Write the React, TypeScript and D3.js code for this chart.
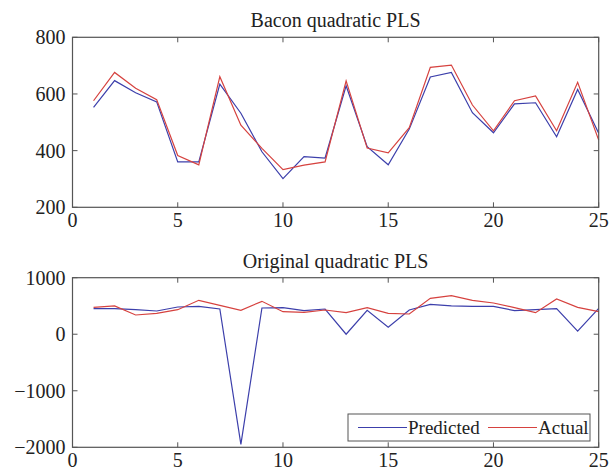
import React, { useEffect, useRef } from "react";
import * as d3 from "d3";

// sample index 1..25
const samples = d3.range(1, 26);

// Bacon quadratic PLS
const baconPredicted = [553, 647, 604, 572, 360, 360, 635, 532, 396, 301, 379, 374, 629, 414, 350, 476, 660, 676, 534, 463, 565, 569, 449, 616, 461];
const baconActual = [576, 676, 620, 580, 383, 350, 661, 490, 408, 333, 349, 360, 646, 409, 392, 481, 694, 702, 561, 470, 576, 593, 470, 641, 437];

// Original quadratic PLS
const origPredicted = [452, 452, 434, 411, 482, 494, 446, -1948, 464, 470, 417, 446, 0, 423, 123, 429, 529, 500, 494, 494, 417, 434, 452, 53, 458];
const origActual = [476, 500, 340, 370, 434, 600, 511, 423, 582, 399, 388, 429, 381, 470, 370, 358, 635, 682, 600, 553, 470, 381, 623, 476, 399];

const xTicks = [0, 5, 10, 15, 20, 25];
const topYTicks = [200, 400, 600, 800];
const bottomYTicks = [-2000, -1000, 0, 1000];

const legendLabels = ["Predicted", "Actual"];

const BLUE = "#3c3fab";
const RED = "#d6423f";
const AXIS = "#555";
const FONT = "'Liberation Serif', 'DejaVu Serif', serif";

const App = () => {
  const svgRef = useRef<SVGSVGElement>(null);

  useEffect(() => {
    const svg = d3.select(svgRef.current);
    svg.selectAll("*").remove();

    const left = 72.5;
    const right = 598.7;

    const x = d3.scaleLinear().domain([0, 25]).range([left, right]);

    const panel = (
      top: number,
      bottom: number,
      yDomain: [number, number],
      yTicks: number[],
      title: string,
      pred: number[],
      act: number[]
    ) => {
      const y = d3.scaleLinear().domain(yDomain).range([bottom, top]);
      const g = svg.append("g");

      const tl = 5;
      // ticks inside on all four sides
      xTicks.forEach(t => {
        g.append("line").attr("x1", x(t)).attr("x2", x(t)).attr("y1", bottom).attr("y2", bottom - tl).attr("stroke", AXIS);
        g.append("line").attr("x1", x(t)).attr("x2", x(t)).attr("y1", top).attr("y2", top + tl).attr("stroke", AXIS);
        g.append("text")
          .attr("x", x(t))
          .attr("y", bottom + 20)
          .attr("text-anchor", "middle")
          .attr("font-family", FONT)
          .attr("font-size", 20)
          .attr("fill", "#222")
          .text(d3.format("d")(t));
      });
      yTicks.forEach(t => {
        g.append("line").attr("x1", left).attr("x2", left + tl).attr("y1", y(t)).attr("y2", y(t)).attr("stroke", AXIS);
        g.append("line").attr("x1", right).attr("x2", right - tl).attr("y1", y(t)).attr("y2", y(t)).attr("stroke", AXIS);
        g.append("text")
          .attr("x", left - 7)
          .attr("y", y(t))
          .attr("dy", "0.35em")
          .attr("text-anchor", "end")
          .attr("font-family", FONT)
          .attr("font-size", 20)
          .attr("fill", "#222")
          .text(d3.format("d")(t));
      });

      const line = d3.line<number>()
        .x((_, i) => x(samples[i]))
        .y(d => y(d));

      g.append("path").datum(pred).attr("d", line).attr("fill", "none").attr("stroke", BLUE).attr("stroke-width", 1.2);
      g.append("path").datum(act).attr("d", line).attr("fill", "none").attr("stroke", RED).attr("stroke-width", 1.2);

      g.append("rect")
        .attr("x", left)
        .attr("y", top)
        .attr("width", right - left)
        .attr("height", bottom - top)
        .attr("fill", "none")
        .attr("stroke", AXIS)
        .attr("stroke-width", 1.2);

      g.append("text")
        .attr("x", (left + right) / 2)
        .attr("y", top - 10)
        .attr("text-anchor", "middle")
        .attr("font-family", FONT)
        .attr("font-size", 20)
        .attr("fill", "#222")
        .text(title);

      return g;
    };

    panel(37.3, 207.3, [200, 800], topYTicks, "Bacon quadratic PLS", baconPredicted, baconActual);
    const g2 = panel(277.7, 447.3, [-2000, 1000], bottomYTicks, "Original quadratic PLS", origPredicted, origActual);

    // legend
    const lg = g2.append("g");
    lg.append("rect")
      .attr("x", 348)
      .attr("y", 414)
      .attr("width", 242)
      .attr("height", 27)
      .attr("fill", "white")
      .attr("stroke", AXIS)
      .attr("stroke-width", 1);
    const items = [
      { label: legendLabels[0], color: BLUE, x0: 358, x1: 407 },
      { label: legendLabels[1], color: RED, x0: 488, x1: 537 }
    ];
    items.forEach(it => {
      lg.append("line").attr("x1", it.x0).attr("x2", it.x1).attr("y1", 427.5).attr("y2", 427.5).attr("stroke", it.color).attr("stroke-width", 1.2);
      lg.append("text")
        .attr("x", it.x1 + 1)
        .attr("y", 427.5)
        .attr("dy", "0.35em")
        .attr("font-family", FONT)
        .attr("font-size", 19)
        .attr("fill", "#222")
        .text(it.label);
    });
  }, []);

  return (
    <div style={{ position: "absolute", left: 0, top: 0 }}>
      <svg ref={svgRef} width={615} height={471} style={{ display: "block", background: "white" }} />
    </div>
  );
};

export default App;
